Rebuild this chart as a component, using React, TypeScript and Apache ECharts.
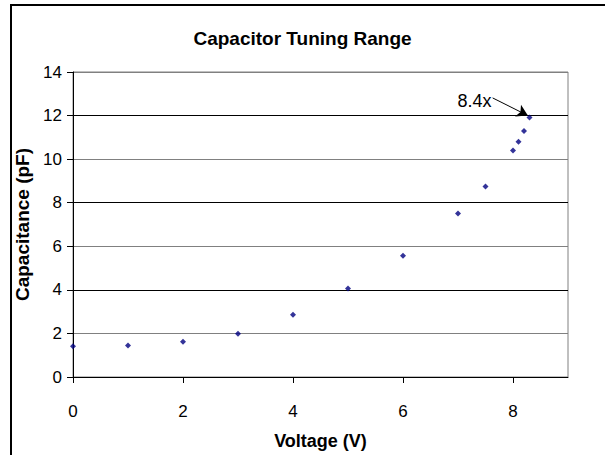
import React, { useEffect, useRef } from "react";
import * as echarts from "echarts";

const voltage = [0, 1, 2, 3, 4, 5, 6, 7, 7.5, 8, 8.1, 8.2, 8.3];
const capacitance = [1.41, 1.45, 1.62, 1.99, 2.86, 4.06, 5.57, 7.5, 8.74, 10.4, 10.8, 11.29, 11.91];
const xTicks = [0, 2, 4, 6, 8];
const yTicks = [0, 2, 4, 6, 8, 10, 12, 14];
const arrowFrom = [7.63, 12.81];
const arrowTo = [8.27, 12.0];
const annotationAt = [7.62, 12.65];
const annotationText = "8.4x";

const FONT = "'Liberation Sans', Arial, sans-serif";

export default function App() {
  const ref = useRef<HTMLDivElement>(null);
  useEffect(() => {
    if (!ref.current) return;
    const chart = echarts.init(ref.current, null, { renderer: "svg" });
    chart.setOption({
      animation: false,
      backgroundColor: "#ffffff",
      textStyle: { fontFamily: FONT },
      title: {
        text: "Capacitor Tuning Range",
        left: "center",
        top: 29,
        padding: 0,
        textStyle: { fontFamily: FONT, fontSize: 19, fontWeight: "bold", color: "#000" },
      },
      graphic: [
        {
          type: "rect",
          shape: { x: 11, y: 5, width: 700, height: 600 },
          style: { fill: "none", stroke: "#000", lineWidth: 2 },
          silent: true,
        },
      ],
      grid: {
        left: 73,
        right: 37,
        top: 72,
        bottom: 78,
        show: true,
        borderColor: "#808080",
        borderWidth: 1,
        backgroundColor: "#ffffff",
      },
      xAxis: {
        type: "value",
        min: xTicks[0],
        max: 9,
        interval: 2,
        name: "Voltage (V)",
        nameLocation: "middle",
        nameGap: 55,
        nameTextStyle: { fontFamily: FONT, fontSize: 18, fontWeight: "bold", color: "#000" },
        axisLine: { show: true, onZero: false, lineStyle: { color: "#000", width: 1 } },
        axisTick: { show: true, inside: false, length: 6, lineStyle: { color: "#000" } },
        axisLabel: {
          margin: 26,
          fontFamily: FONT,
          fontSize: 17,
          color: "#000",
          showMaxLabel: false,
          formatter: (v: number) => (xTicks.includes(v) ? String(v) : ""),
        },
        splitLine: { show: false },
      },
      yAxis: {
        type: "value",
        min: yTicks[0],
        max: yTicks[yTicks.length - 1],
        interval: 2,
        name: "Capacitance (pF)",
        nameLocation: "middle",
        nameGap: 37,
        nameTextStyle: { fontFamily: FONT, fontSize: 19, fontWeight: "bold", color: "#000" },
        axisLine: { show: true, lineStyle: { color: "#000", width: 1 } },
        axisTick: { show: true, inside: false, length: 6, lineStyle: { color: "#000" } },
        axisLabel: { margin: 11, fontFamily: FONT, fontSize: 17, color: "#000" },
        splitLine: { show: true, lineStyle: { color: ["#000000", "#808080"], width: 1 } },
      },
      series: [
        {
          type: "scatter",
          data: voltage.map((v, i) => [v, capacitance[i]]),
          symbol: "diamond",
          symbolSize: 6,
          itemStyle: { color: "#000080" },
          markLine: {
            silent: true,
            symbol: ["none", "arrow"],
            symbolSize: [10, 11],
            label: { show: false },
            lineStyle: { color: "#000", width: 1, type: "solid" },
            data: [[{ coord: arrowFrom }, { coord: arrowTo }]],
          },
          markPoint: {
            silent: true,
            symbol: "rect",
            symbolSize: 1,
            itemStyle: { color: "rgba(0,0,0,0)" },
            label: {
              show: true,
              position: "left",
              distance: 0,
              formatter: annotationText,
              color: "#000",
              fontFamily: FONT,
              fontSize: 18,
            },
            data: [{ coord: annotationAt }],
          },
        },
      ],
    });
    return () => chart.dispose();
  }, []);
  return (
    <div
      ref={ref}
      style={{ position: "fixed", left: 0, top: 0, width: 605, height: 455 }}
    />
  );
}
